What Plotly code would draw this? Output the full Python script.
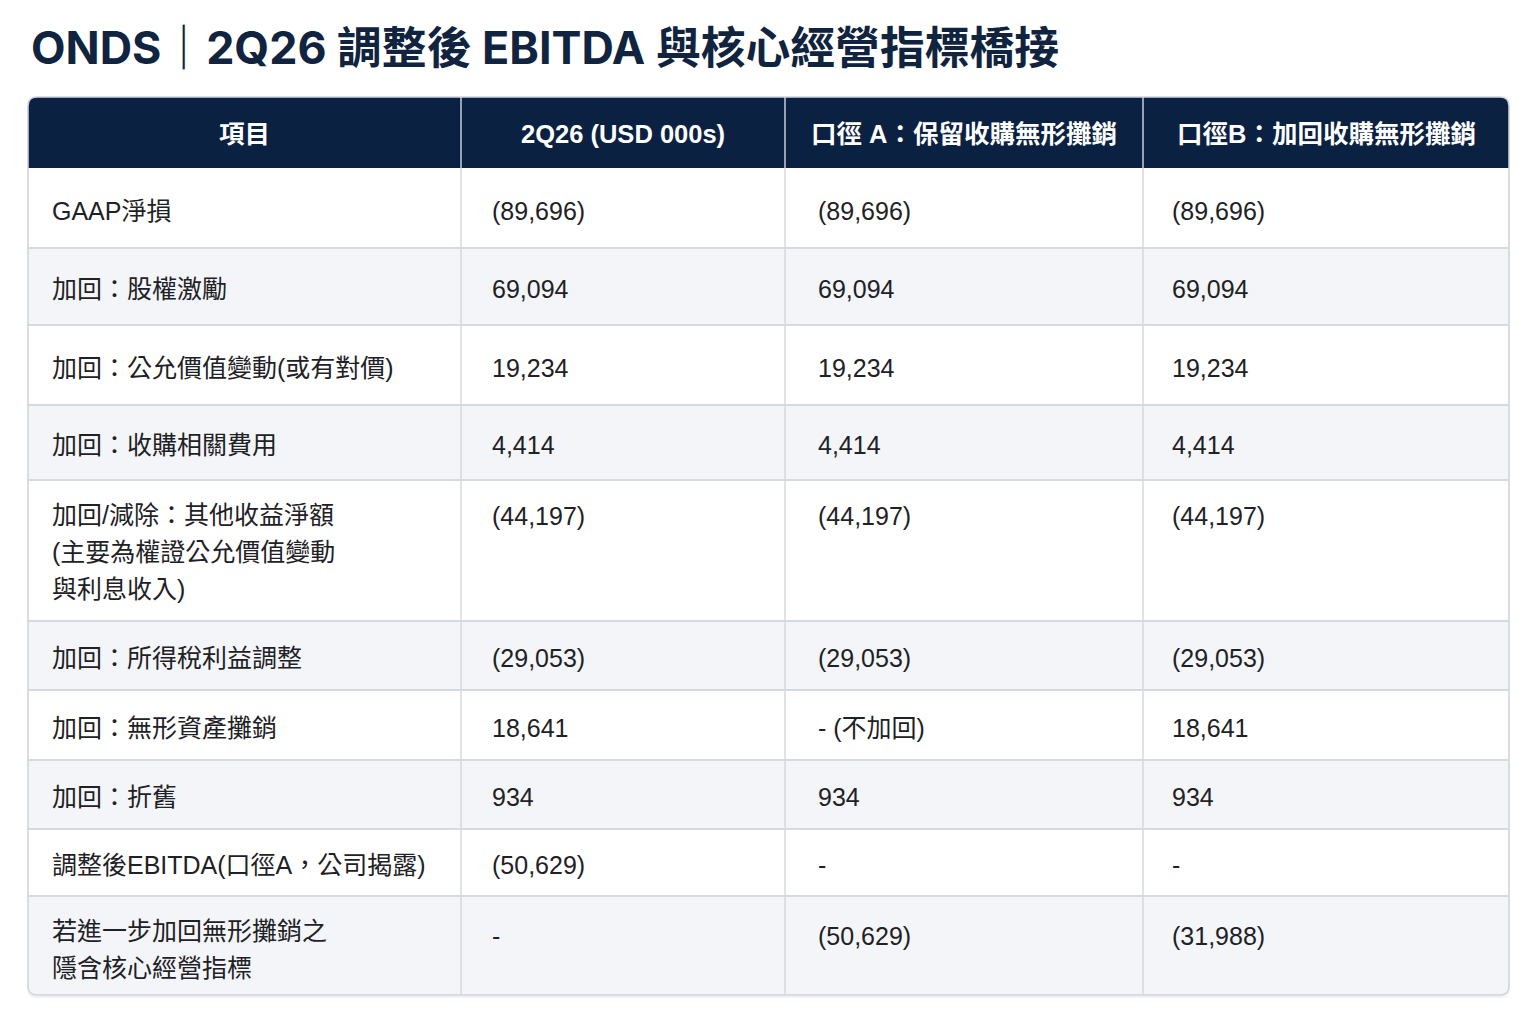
import plotly.graph_objects as go

# ---- data ----
title = "ONDS｜2Q26 調整後 EBITDA 與核心經營指標橋接"

headers = ["項目", "2Q26 (USD 000s)", "口徑 A：保留收購無形攤銷", "口徑B：加回收購無形攤銷"]

items = [
    "GAAP淨損",
    "加回：股權激勵",
    "加回：公允價值變動(或有對價)",
    "加回：收購相關費用",
    "加回/減除：其他收益淨額\n(主要為權證公允價值變動\n與利息收入)",
    "加回：所得稅利益調整",
    "加回：無形資產攤銷",
    "加回：折舊",
    "調整後EBITDA(口徑A，公司揭露)",
    "若進一步加回無形攤銷之\n隱含核心經營指標",
]
q2_26 = ["(89,696)", "69,094", "19,234", "4,414", "(44,197)", "(29,053)",
         "18,641", "934", "(50,629)", "-"]
basis_a = ["(89,696)", "69,094", "19,234", "4,414", "(44,197)", "(29,053)",
           "- (不加回)", "934", "-", "(50,629)"]
basis_b = ["(89,696)", "69,094", "19,234", "4,414", "(44,197)", "(29,053)",
           "18,641", "934", "-", "(31,988)"]

# ---- layout (pixels on the page) ----
W, H = 1536, 1024
OFF = 8  # page body margin
col_edges = [28, 461, 785, 1143, 1509]
col_text_x = [50, 490, 816, 1170]
header_top, header_bottom = 97, 168
row_edges = [168, 248, 325, 405, 480, 621, 690, 760, 829, 896, 995]
value_dy = [None, None, None, None, 36, None, None, None, None, 40]  # offset from row top, None = centred
line_gap = 37
radius = 9

NAVY = "#0b2142"
TEXT = "#1e2125"
GRID = "#d5d9e0"
ALT = "#f3f5f8"
FONT = "Liberation Sans, Noto Sans CJK TC, sans-serif"
TITLE_FONT = "Inter, Noto Sans CJK TC, sans-serif"


def rounded_path(x0, y0, x1, y1, rt, rb):
    # y grows downwards (reversed axis)
    return (f"M{x0 + rt},{y0} L{x1 - rt},{y0} Q{x1},{y0} {x1},{y0 + rt} "
            f"L{x1},{y1 - rb} Q{x1},{y1} {x1 - rb},{y1} "
            f"L{x0 + rb},{y1} Q{x0},{y1} {x0},{y1 - rb} "
            f"L{x0},{y0 + rt} Q{x0},{y0} {x0 + rt},{y0} Z")


fig = go.Figure()
shapes = []
annotations = []

left, right = col_edges[0], col_edges[-1]
bottom = row_edges[-1]

# soft shadow
shapes.append(dict(type="path", xref="x", yref="y", layer="below",
                   path=rounded_path(left - 1, header_top, right + 1, bottom + 3, radius, radius),
                   fillcolor="rgba(20,30,50,0.06)", line=dict(width=0)))
# table body background
shapes.append(dict(type="path", xref="x", yref="y", layer="below",
                   path=rounded_path(left, header_top, right, bottom, radius, radius),
                   fillcolor="white", line=dict(width=0)))

# alternating row fills
n = len(items)
for i in range(n):
    if i % 2 == 1:
        y0, y1 = row_edges[i], row_edges[i + 1]
        if i == n - 1:
            shapes.append(dict(type="path", xref="x", yref="y", layer="below",
                               path=rounded_path(left, y0, right, y1, 0, radius),
                               fillcolor=ALT, line=dict(width=0)))
        else:
            shapes.append(dict(type="rect", xref="x", yref="y", layer="below",
                               x0=left, x1=right, y0=y0, y1=y1,
                               fillcolor=ALT, line=dict(width=0)))

# header band
shapes.append(dict(type="path", xref="x", yref="y", layer="below",
                   path=rounded_path(left, header_top, right, header_bottom, radius, 0),
                   fillcolor=NAVY, line=dict(width=0)))

# horizontal grid lines
for y in row_edges[1:-1]:
    shapes.append(dict(type="line", xref="x", yref="y", x0=left, x1=right, y0=y, y1=y,
                       line=dict(color=GRID, width=2)))

# vertical grid lines
for x in col_edges[1:-1]:
    shapes.append(dict(type="line", xref="x", yref="y", x0=x, x1=x,
                       y0=header_top, y1=header_bottom,
                       line=dict(color="#c8ced8", width=1.5)))
    shapes.append(dict(type="line", xref="x", yref="y", x0=x, x1=x,
                       y0=header_bottom, y1=bottom,
                       line=dict(color=GRID, width=1.5)))

# outer border
shapes.append(dict(type="path", xref="x", yref="y",
                   path=rounded_path(left, header_top, right, bottom, radius, radius),
                   fillcolor="rgba(0,0,0,0)", line=dict(color="#cfd4dc", width=1.5)))

# title
annotations.append(dict(x=29, y=48, xref="x", yref="y", text=f"<b>{title}</b>",
                        showarrow=False, xanchor="left", yanchor="middle",
                        font=dict(family=TITLE_FONT, size=44.8, color="#10233f")))

# header text
hy = (header_top + header_bottom) / 2 + 1
for j, h in enumerate(headers):
    cx = (col_edges[j] + col_edges[j + 1]) / 2
    annotations.append(dict(x=cx, y=hy, xref="x", yref="y", text=f"<b>{h}</b>",
                            showarrow=False, xanchor="center", yanchor="middle",
                            font=dict(family=FONT, size=25.5, color="white")))

# body text
columns = [items, q2_26, basis_a, basis_b]
for i in range(n):
    top, bot = row_edges[i], row_edges[i + 1]
    mid = (top + bot) / 2 + 2.5
    lines = items[i].split("\n")
    if len(lines) == 1:
        ys = [mid]
    else:
        ys = [top + 35 + k * line_gap for k in range(len(lines))]
    for k, ln in enumerate(lines):
        annotations.append(dict(x=col_text_x[0], y=ys[k], xref="x", yref="y", text=ln,
                                showarrow=False, xanchor="left", yanchor="middle",
                                font=dict(family=FONT, size=25, color=TEXT)))
    vy = mid if value_dy[i] is None else top + value_dy[i]
    for j in range(1, 4):
        annotations.append(dict(x=col_text_x[j], y=vy, xref="x", yref="y",
                                text=columns[j][i], showarrow=False,
                                xanchor="left", yanchor="middle",
                                font=dict(family=FONT, size=25, color=TEXT)))

fig.update_layout(
    width=W, height=H,
    margin=dict(l=0, r=0, t=0, b=0),
    paper_bgcolor="white", plot_bgcolor="white",
    xaxis=dict(range=[OFF, W + OFF], visible=False, fixedrange=True),
    yaxis=dict(range=[H + OFF, OFF], visible=False, fixedrange=True),
    shapes=shapes, annotations=annotations,
    showlegend=False,
)

fig.write_html("out.html", config={"displayModeBar": False})
